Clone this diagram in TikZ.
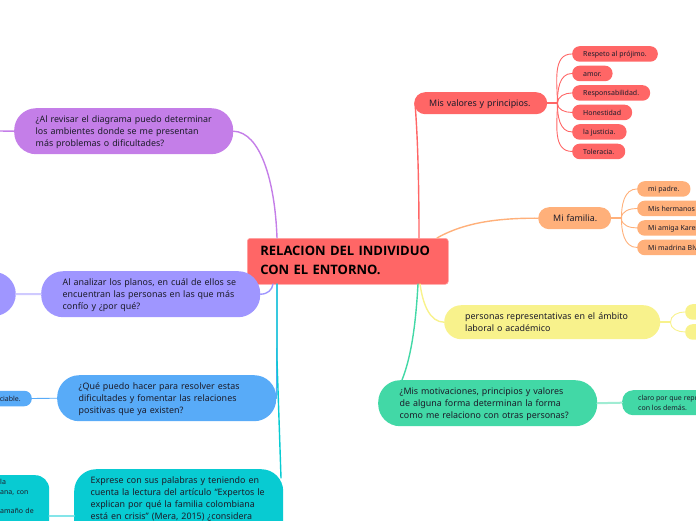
\documentclass[tikz,border=0pt]{standalone}
\usepackage{fontspec}
\setmainfont{Noto Sans}
\newfontfamily\negrita{Open Sans}
\definecolor{rojo}{HTML}{FF6666}
\definecolor{naranja}{HTML}{FFB07A}
\definecolor{amarillo}{HTML}{F8F28C}
\definecolor{verde}{HTML}{42D8A6}
\definecolor{turquesa}{HTML}{08CBD2}
\definecolor{azul}{HTML}{58ABF8}
\definecolor{lila}{HTML}{9F96FF}
\definecolor{morado}{HTML}{C47EE8}
\definecolor{tinta}{HTML}{1C1C2A}
\tikzset{
  tema/.style={anchor=north west,inner xsep=21.5pt,inner ysep=0pt,rounded corners=22pt,align=left,text=tinta,
    text width=176pt,minimum height=46pt,text depth=23.5pt,font=\fontsize{8.9}{12}\selectfont},
  corto/.style={tema,inner xsep=15pt,minimum height=22pt,rounded corners=11pt,text height=7pt,text depth=1pt},
  hoja/.style={anchor=north west,inner xsep=11pt,inner ysep=0pt,rounded corners=7.5pt,text=tinta,
    minimum height=15.5pt,font=\fontsize{7}{9.5}\selectfont},
  hojita/.style={hoja,text height=6pt,text depth=0pt},
  rama/.style={line width=1.4pt},
  tallo/.style={line width=2pt},
  ramita/.style={line width=0.9pt},
}
\begin{document}
\begin{tikzpicture}[x=1pt,y=-1pt,line cap=round]
\useasboundingbox (0,0) rectangle (696,520);
\clip (0,0) rectangle (696,520);
%central
\node[tema,fill=rojo,draw=rojo!60!white,line width=0.6pt,rounded corners=3pt,inner xsep=13pt,text width=175pt,minimum height=46pt,text depth=21pt,text=black,
  font=\negrita\bfseries\fontsize{13}{18.5}\selectfont] (central) at (247,238) {RELACION DEL INDIVIDUO\\CON EL ENTORNO.};
%temas
\node[corto,fill=rojo,text width=103pt] (valores) at (414,92) {\mbox{Mis valores y principios.}};
\node[corto,fill=naranja,text width=43pt] (familia) at (538,207) {\mbox{Mi familia.}};
\node[tema,fill=amarillo,inner xsep=21pt,text width=174pt,minimum height=34pt,text depth=13pt,rounded corners=17pt] (laboral) at (444,305) {personas representativas en el ámbito\\laboral o académico};
\node[tema,fill=verde] (motiva) at (378,380) {¿Mis motivaciones, principios y valores\\de alguna forma determinan la forma\\como me relaciono con otras personas?};
\node[tema,fill=morado] (revisar) at (14,108) {\mbox{¿Al revisar el diagrama puedo determinar}\\los ambientes donde se me presentan\\más problemas o dificultades?};
\node[tema,fill=lila] (planos) at (41,271) {Al analizar los planos, en cuál de ellos se\\encuentran las personas en las que más\\confío y ¿por qué?};
\node[tema,fill=azul] (resolver) at (57,375) {¿Qué puedo hacer para resolver estas\\dificultades y fomentar las relaciones\\positivas que ya existen?};
\node[tema,fill=turquesa,inner xsep=16.5pt,inner ysep=7.5pt,text depth=70pt] (exprese) at (74,469) {Exprese con sus palabras y teniendo en\\cuenta la lectura del artículo “Expertos le\\explican por qué la familia colombiana\\está en crisis” (Mera, 2015) ¿considera};
%puntos de salida
\coordinate (crojo) at (419,238);
\coordinate (cnaranja) at (437,238);
\coordinate (camarillo) at (420,284);
\coordinate (cverde) at (418,284);
\coordinate (cmorado) at (277,238);
\coordinate (clila) at (273,284);
\coordinate (ctronco) at (277,284);
\coordinate (finexprese) at (281,478);
\coordinate (finverde) at (402,380);
%ramas
\draw[rojo,rama] (crojo) .. controls (419,190) and (418,140) .. ([xshift=1pt]valores.west);
\draw[naranja,rama] (cnaranja) .. controls (465,222) and (500,218) .. (familia.west);
\draw[amarillo,rama] (camarillo) .. controls (423,305) and (430,322) .. (laboral.west);
\draw[verde,rama] (cverde) .. controls (416,320) and (412,355) .. (finverde);
\draw[morado,rama] (revisar.east) .. controls (260,132) and (275,180) .. (cmorado);
\draw[lila,rama] (planos.east) .. controls (268,294) and (272,290) .. (clila);
\draw[azul,rama] (ctronco) .. controls (277,330) and (277,390) .. (resolver.east);
\draw[turquesa,rama] (ctronco) -- (277,360) -- (finexprese);
%hojas rojas
\draw[rojo,tallo] (valores.east) -- ++(10,0) coordinate (nudorojo);
\foreach \nombre/\ypos/\ang/\texto in {a/46/90/Respeto al prójimo.,b/65.5/90/amor.,c/85/90/Responsabilidad.,d/104.5/270/Honestidad,e/124/270/la justicia.,f/143.5/270/Toleracia.}{
  \node[hojita,fill=rojo] (r\nombre) at (572,\ypos) {\texto};
  \draw[rojo,ramita] (nudorojo) to[out=\ang,in=180] (r\nombre.west);
}
%hojas naranja
\draw[naranja,tallo] (familia.east) -- ++(10,0) coordinate (nudonaranja);
\foreach \nombre/\ypos/\ang/\texto in {a/181/90/mi padre.,b/200.5/90/Mis hermanos,c/220/270/Mi amiga Karen,d/239.5/270/Mi madrina Blv}{
  \node[hojita,fill=naranja] (n\nombre) at (637,\ypos) {\texto};
  \draw[naranja,ramita] (nudonaranja) to[out=\ang,in=180] (n\nombre.west);
}
%hojas amarillas
\draw[amarillo,tallo] (laboral.east) -- ++(10,0) coordinate (nudoamarillo);
\node[hoja,fill=amarillo,minimum width=30pt] (ya) at (685,304) {};
\node[hoja,fill=amarillo,minimum width=30pt] (yb) at (685,324) {};
\draw[amarillo,ramita] (nudoamarillo) to[out=90,in=180] (ya.west);
\draw[amarillo,ramita] (nudoamarillo) to[out=270,in=180] (yb.west);
%hoja verde
\node[hoja,fill=verde,align=left,inner xsep=16pt,rounded corners=11pt,minimum height=25pt] (claro) at (622,390) {claro por que representan\\con los demás.};
\draw[verde!50,tallo] (motiva.east) -- (claro.west);
%izquierda
\coordinate (salida) at (0,131);
\draw[morado,rama] (revisar.west) -- (salida);
\node[tema,anchor=east,fill=lila,text width=20pt,inner xsep=20pt,minimum height=44pt] (planosdos) at (16,294) {};
\draw[lila!50,tallo] (planos.west) -- (planosdos.east);
\node[hojita,anchor=east,fill=azul] (sociable) at (32,398.5) {ciable.};
\draw[azul,ramita] (resolver.west) -- (sociable.east);
\node[hoja,fill=turquesa,align=left,text width=35pt,inner xsep=14pt,rounded corners=14pt,inner ysep=4pt,text depth=60pt] (familiados) at (-14,475) {la\\ana, con\\\mbox{}\\amaño de};
\draw[turquesa!50,tallo] (exprese.west|-0,516) -- (familiados.east|-0,516);
\end{tikzpicture}
\end{document}
